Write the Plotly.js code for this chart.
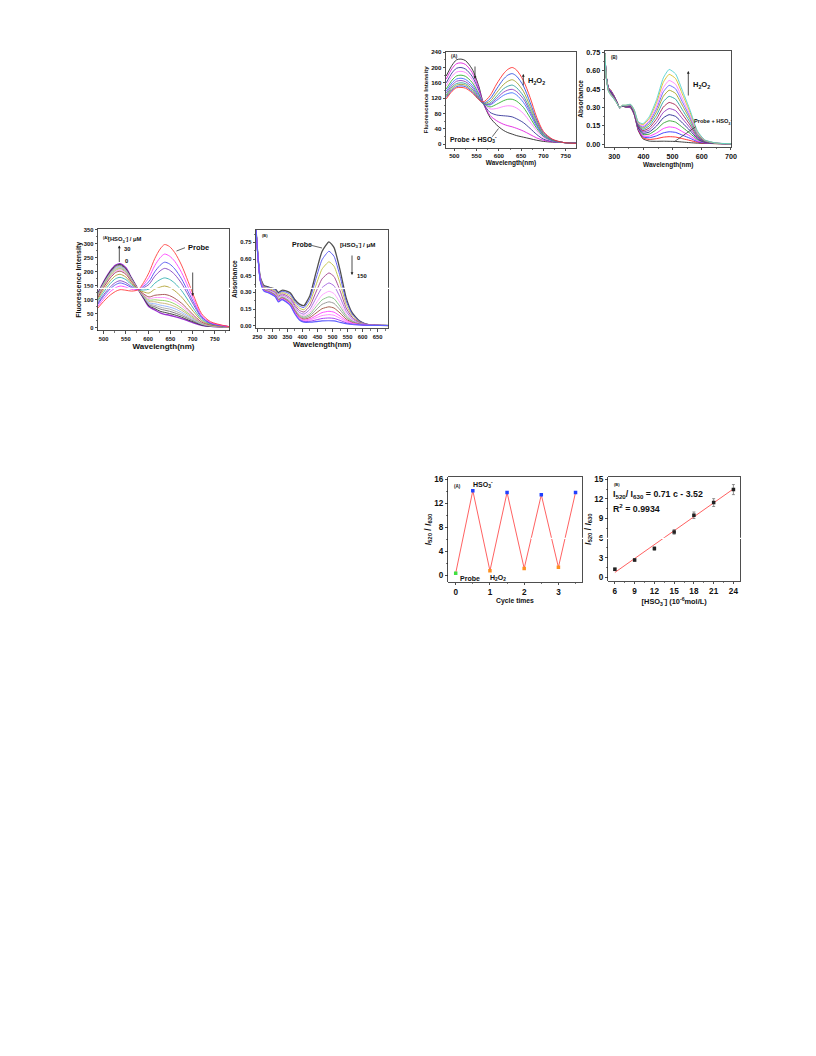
<!DOCTYPE html>
<html><head><meta charset="utf-8">
<script src="https://cdn.plot.ly/plotly-3.0.1.min.js"></script>
<style>html,body{margin:0;padding:0;background:#fff}#chart{width:816px;height:1056px}</style>
</head><body><div id="chart"></div>
<script>
// ---------- Panel 1: fluorescence, H2O2 addition ----------
const flH2O2Wl = [482,495,505,515,525,540,555,565,580,595,610,620,630,640,655,670,685,700,720,745,775];
const flH2O2I = [
  [178,206,220,222,218,196,151,108,70,50,36,30,26,22,18,14,10,7,5,4,3],
  [170,197,210,212,208,187,146,107,75,61,52,48,45,41,34,25,16,10,6,4,3],
  [160,186,198,200,196,177,140,107,83,76,74,73,71,66,56,41,25,13,7,4,3],
  [152,177,188,190,187,169,136,108,92,93,98,100,99,94,80,58,35,17,8,4,3],
  [144,167,178,180,177,161,131,107,97,104,113,117,117,112,96,69,41,20,9,4,3],
  [138,160,170,172,169,154,127,107,102,114,127,132,134,128,109,79,46,22,9,4,3],
  [133,154,164,166,163,149,123,106,104,119,135,141,143,137,118,85,50,24,10,4,3],
  [128,149,158,160,158,144,120,105,107,125,144,151,154,147,126,91,53,25,10,4,2],
  [125,145,154,156,154,140,119,106,112,134,155,164,168,161,138,99,58,27,11,4,2],
  [122,141,150,152,150,137,117,107,118,144,169,180,184,177,152,109,63,30,12,4,2],
  [118,138,147,148,146,134,116,110,126,157,183,195,200,193,166,122,70,33,13,4,2]
];
const flH2O2Colors = ['#2a2a2a','#e020e0','#34349a','#ff80ff','#30b030','#4070ff','#9040c0','#30a0a0','#a0a030','#3050e0','#ff3030'];

// ---------- Panel 2: absorbance, H2O2 addition ----------
const absH2O2Wl = [268,272,280,288,298,310,319,327,340,356,368,382,398,420,445,468,488,510,535,560,585,610,650,702];
const absH2O2A = [
  [0.74,0.56,0.459,0.439,0.399,0.34,0.295,0.31,0.30,0.296,0.241,0.111,0.043,0.024,0.022,0.023,0.022,0.021,0.016,0.011,0.007,0.005,0.003,0.002],
  [0.74,0.559,0.458,0.437,0.398,0.339,0.295,0.311,0.302,0.298,0.244,0.116,0.051,0.037,0.044,0.056,0.06,0.057,0.043,0.029,0.014,0.007,0.003,0.002],
  [0.74,0.558,0.456,0.434,0.396,0.338,0.295,0.311,0.303,0.3,0.246,0.121,0.059,0.051,0.067,0.091,0.10,0.095,0.071,0.047,0.02,0.009,0.004,0.002],
  [0.74,0.557,0.454,0.431,0.394,0.337,0.295,0.311,0.304,0.302,0.249,0.126,0.067,0.064,0.09,0.126,0.14,0.132,0.099,0.065,0.027,0.011,0.004,0.002],
  [0.74,0.556,0.451,0.427,0.391,0.336,0.295,0.312,0.305,0.304,0.253,0.132,0.078,0.081,0.119,0.17,0.19,0.179,0.134,0.087,0.036,0.013,0.004,0.002],
  [0.74,0.555,0.449,0.424,0.389,0.335,0.295,0.312,0.307,0.307,0.256,0.138,0.088,0.098,0.148,0.214,0.24,0.226,0.169,0.11,0.044,0.016,0.005,0.002],
  [0.74,0.554,0.446,0.42,0.386,0.334,0.295,0.313,0.308,0.309,0.26,0.144,0.099,0.115,0.177,0.258,0.29,0.273,0.204,0.132,0.053,0.018,0.005,0.002],
  [0.74,0.553,0.444,0.417,0.384,0.333,0.295,0.313,0.31,0.312,0.263,0.15,0.109,0.132,0.206,0.302,0.34,0.32,0.239,0.155,0.061,0.021,0.006,0.002],
  [0.74,0.552,0.441,0.413,0.381,0.332,0.295,0.314,0.311,0.314,0.267,0.156,0.12,0.149,0.235,0.346,0.39,0.367,0.274,0.177,0.07,0.023,0.006,0.002],
  [0.74,0.551,0.439,0.41,0.379,0.331,0.295,0.314,0.313,0.317,0.27,0.162,0.13,0.166,0.264,0.39,0.44,0.414,0.309,0.2,0.078,0.026,0.006,0.002],
  [0.74,0.551,0.437,0.407,0.377,0.331,0.295,0.315,0.314,0.319,0.273,0.166,0.139,0.18,0.288,0.426,0.48,0.452,0.337,0.218,0.085,0.028,0.007,0.002],
  [0.74,0.55,0.435,0.404,0.375,0.33,0.295,0.315,0.315,0.321,0.276,0.171,0.147,0.193,0.311,0.461,0.52,0.489,0.365,0.236,0.092,0.03,0.007,0.002],
  [0.74,0.549,0.432,0.401,0.372,0.329,0.295,0.316,0.317,0.323,0.279,0.177,0.158,0.21,0.34,0.505,0.57,0.536,0.4,0.258,0.1,0.032,0.007,0.002],
  [0.74,0.548,0.43,0.398,0.37,0.328,0.295,0.316,0.318,0.325,0.282,0.182,0.166,0.224,0.363,0.54,0.61,0.574,0.428,0.276,0.107,0.034,0.008,0.002]
];
const absH2O2Colors = ['#2a2a2a','#ff2020','#3030ff','#ff30ff','#30a030','#202090','#9030c0','#a02050','#20a0a0','#a0a020','#6060ff','#ff80ff','#d8c020','#50d0d0'];

// ---------- Panel 3: fluorescence, HSO3- addition ----------
const flHSO3Wl = [487,500,515,527,537,550,563,578,590,602,615,627,637,648,660,675,690,705,720,740,783];
const flHSO3I = [
  [123,164,203,224,229,214,177,136,105,75,64,53,48,45,40,33,25,16,9,5,3],
  [122,162,201,221,226,211,176,136,106,78,69,59,55,51,46,38,28,19,10,5,3],
  [120,160,198,218,223,209,174,136,108,82,75,67,63,59,53,44,33,22,12,6,3],
  [118,158,195,215,220,206,173,136,110,86,80,74,70,67,60,50,37,24,13,7,3],
  [117,156,193,212,217,204,172,136,112,89,86,81,78,74,68,56,42,27,14,7,3],
  [115,153,190,209,214,201,170,136,114,94,93,89,87,83,76,63,47,30,16,8,3],
  [113,150,186,205,211,198,168,136,116,99,100,98,97,93,85,70,52,34,17,8,3],
  [110,147,182,201,207,195,166,136,118,104,108,108,108,103,95,79,58,37,19,9,3],
  [108,144,178,197,202,191,164,136,121,110,116,118,119,115,105,88,65,41,21,10,3],
  [102,136,168,186,191,181,158,136,128,124,138,145,149,144,132,110,81,52,26,12,3],
  [96,127,158,175,180,172,153,136,135,138,159,172,178,173,159,133,98,62,31,14,4],
  [88,118,146,162,168,161,147,136,143,155,184,203,212,206,190,159,117,74,37,16,4],
  [84,112,139,154,160,154,143,136,148,165,200,223,234,228,210,175,129,82,40,17,4],
  [77,103,129,143,149,145,137,136,154,180,222,250,263,256,237,198,146,92,45,19,4],
  [70,94,117,130,136,134,131,136,162,197,247,281,297,290,268,224,165,104,51,22,4]
];
const flHSO3Colors = ['#9b30d0','#303030','#707070','#a8a8a8','#90b0ff','#c8b070','#90d060','#ff90ff','#a04848','#b0a030','#30b0b0','#8040c0','#5050f0','#ff40ff','#ff4040'];

// ---------- Panel 4: absorbance, HSO3- addition ----------
const absHSO3Wl = [246,252,260,272,290,310,320,332,345,360,375,390,405,425,445,465,488,505,525,545,565,590,620,685];
const absHSO3A = [
  [0.86,0.635,0.437,0.362,0.346,0.330,0.299,0.319,0.314,0.294,0.234,0.194,0.181,0.273,0.477,0.668,0.755,0.703,0.5,0.253,0.118,0.042,0.01,0.002],
  [0.86,0.633,0.433,0.356,0.34,0.321,0.289,0.309,0.302,0.281,0.219,0.177,0.164,0.244,0.424,0.593,0.67,0.624,0.444,0.225,0.105,0.038,0.01,0.002],
  [0.86,0.631,0.428,0.35,0.332,0.312,0.278,0.298,0.289,0.265,0.202,0.158,0.144,0.212,0.365,0.509,0.575,0.535,0.381,0.193,0.091,0.033,0.009,0.002],
  [0.86,0.629,0.423,0.343,0.325,0.302,0.266,0.286,0.275,0.249,0.184,0.138,0.123,0.178,0.303,0.421,0.475,0.442,0.315,0.16,0.076,0.028,0.008,0.002],
  [0.86,0.628,0.419,0.336,0.318,0.293,0.255,0.275,0.263,0.235,0.168,0.12,0.104,0.148,0.248,0.342,0.385,0.359,0.256,0.131,0.062,0.024,0.007,0.002],
  [0.86,0.626,0.415,0.331,0.313,0.285,0.246,0.266,0.252,0.223,0.154,0.105,0.088,0.122,0.201,0.276,0.31,0.289,0.206,0.106,0.051,0.02,0.006,0.002],
  [0.86,0.625,0.413,0.328,0.309,0.28,0.24,0.26,0.245,0.215,0.145,0.095,0.078,0.105,0.17,0.232,0.26,0.243,0.173,0.09,0.044,0.018,0.006,0.002],
  [0.86,0.624,0.41,0.324,0.305,0.276,0.235,0.255,0.239,0.208,0.137,0.086,0.068,0.09,0.142,0.192,0.215,0.201,0.143,0.075,0.037,0.015,0.005,0.002],
  [0.86,0.623,0.408,0.321,0.302,0.271,0.229,0.249,0.232,0.201,0.129,0.077,0.059,0.074,0.114,0.153,0.17,0.159,0.114,0.06,0.03,0.013,0.005,0.002],
  [0.86,0.622,0.406,0.318,0.299,0.267,0.224,0.244,0.227,0.194,0.122,0.069,0.05,0.061,0.089,0.118,0.13,0.122,0.087,0.047,0.024,0.011,0.004,0.002],
  [0.86,0.622,0.405,0.316,0.297,0.264,0.221,0.241,0.223,0.189,0.116,0.063,0.044,0.051,0.071,0.091,0.1,0.094,0.067,0.037,0.02,0.01,0.004,0.002],
  [0.86,0.621,0.403,0.314,0.295,0.261,0.217,0.237,0.218,0.185,0.111,0.057,0.038,0.04,0.052,0.065,0.07,0.066,0.048,0.027,0.015,0.008,0.004,0.002],
  [0.86,0.621,0.402,0.312,0.293,0.259,0.214,0.234,0.215,0.181,0.106,0.052,0.032,0.032,0.037,0.043,0.045,0.043,0.031,0.019,0.011,0.007,0.003,0.002]
];
const absHSO3Colors = ['#505050','#5050f0','#c0c040','#a04090','#a060e0','#ffa0ff','#80c080','#909090','#a05040','#ff40ff','#ff80ff','#a030f0','#6060ff'];

// ---------- Panel 5: reversibility cycles ----------
const cycleX = [0,0.5,1,1.5,2,2.5,3,3.5];
const cycleY = [0.3,14.1,0.7,13.8,1.1,13.4,1.3,13.8];
const probeX = [0];        const probeY = [0.3];
const hso3X = [0.5,1.5,2.5,3.5]; const hso3Y = [14.1,13.8,13.4,13.8];
const h2o2X = [1,2,3];     const h2o2Y = [0.7,1.1,1.3];

// ---------- Panel 6: linear calibration ----------
const concX = [6,9,12,15,18,21,24];
const ratioY = [1.22,2.65,4.39,6.94,9.49,11.43,13.42];
const ratioErr = [0.2,0.2,0.25,0.35,0.5,0.6,0.77];
const fitX = [6,24];
const fitY = [0.74,13.52];

// ---------- layout helpers ----------
const W = 816, H = 1056;
const fx = p => p / W;
const fy = p => 1 - p / H;
const FONT = 'Arial, "Liberation Sans", sans-serif';

function mkX(l, r, range, dtick, tick0, title, tSize, titleSize, anchor, minorD, standoff) {
  return {
    domain: [fx(l), fx(r)], range: range, anchor: anchor,
    showline: true, mirror: true, linecolor: '#222', linewidth: 0.8,
    ticks: 'outside', ticklen: 2.5, tickwidth: 0.8, tickcolor: '#222',
    dtick: dtick, tick0: tick0,
    tickfont: {family: FONT, size: tSize, weight: 700, color: '#111'},
    showgrid: false, zeroline: false,
    minor: {ticks: 'outside', ticklen: 1.5, tickwidth: 0.6, tickcolor: '#222', dtick: minorD, tick0: tick0},
    title: {text: title, font: {family: FONT, size: titleSize, weight: 700, color: '#111'}, standoff: standoff}
  };
}
function mkY(t, b, range, dtick, tick0, title, tSize, titleSize, anchor, minorD, fmt, standoff) {
  const a = mkX(0, 1, range, dtick, tick0, title, tSize, titleSize, anchor, minorD, standoff);
  a.domain = [fy(b), fy(t)];
  if (fmt) a.tickformat = fmt;
  return a;
}

const traces = [];
function addCurves(wl, set, colors, xa, ya, widths, smooth) {
  set.forEach((ys, i) => {
    traces.push({x: wl, y: ys, xaxis: xa, yaxis: ya, type: 'scatter', mode: 'lines',
      line: {color: colors[i], width: widths ? widths[i] : 0.9, shape: 'spline', smoothing: smooth || 0.8},
      hoverinfo: 'skip', showlegend: false});
  });
}
addCurves(flH2O2Wl, flH2O2I, flH2O2Colors, 'x', 'y');
addCurves(absH2O2Wl, absH2O2A, absH2O2Colors, 'x2', 'y2', null, 0.5);
addCurves(flHSO3Wl, flHSO3I, flHSO3Colors, 'x3', 'y3', flHSO3I.map((_, i) => i === 0 ? 1.4 : 0.9));
addCurves(absHSO3Wl, absHSO3A, absHSO3Colors, 'x4', 'y4', absHSO3A.map((_, i) => i === 0 ? 1.3 : (i === absHSO3A.length - 1 ? 1.2 : 0.9)), 0.5);

// panel 5
traces.push({x: cycleX, y: cycleY, xaxis: 'x5', yaxis: 'y5', mode: 'lines', line: {color: '#ff5050', width: 0.9}, showlegend: false});
traces.push({x: probeX, y: probeY, xaxis: 'x5', yaxis: 'y5', mode: 'markers', marker: {symbol: 'square', size: 3.5, color: '#40e040'}, showlegend: false});
traces.push({x: hso3X, y: hso3Y, xaxis: 'x5', yaxis: 'y5', mode: 'markers', marker: {symbol: 'square', size: 3.5, color: '#2040ff'}, showlegend: false});
traces.push({x: h2o2X, y: h2o2Y, xaxis: 'x5', yaxis: 'y5', mode: 'markers', marker: {symbol: 'square', size: 3.5, color: '#ff9020'}, showlegend: false});

// panel 6
traces.push({x: fitX, y: fitY, xaxis: 'x6', yaxis: 'y6', mode: 'lines', line: {color: '#ff6060', width: 1}, showlegend: false});
traces.push({x: concX, y: ratioY, xaxis: 'x6', yaxis: 'y6', mode: 'markers',
  marker: {symbol: 'square', size: 3.5, color: '#222'},
  error_y: {type: 'data', array: ratioErr, visible: true, color: '#666', thickness: 0.7, width: 1.5}, showlegend: false});

const tf = (size) => ({family: FONT, size: size, weight: 700, color: '#111'});
function txt(x, y, text, size, xanchor) {
  return {xref: 'paper', yref: 'paper', x: fx(x), y: fy(y), text: text, showarrow: false,
    font: tf(size), xanchor: xanchor || 'center', yanchor: 'middle'};
}
function arrow(xh, yh, dx, dy) {
  return {xref: 'paper', yref: 'paper', x: fx(xh), y: fy(yh), ax: dx, ay: dy, text: '',
    showarrow: true, arrowhead: 2, arrowsize: 0.7, arrowwidth: 0.8, arrowcolor: '#222'};
}
function seg(x0, y0, x1, y1, color, w) {
  return {type: 'line', xref: 'paper', yref: 'paper', x0: fx(x0), y0: fy(y0), x1: fx(x1), y1: fy(y1),
    line: {color: color || '#222', width: w || 0.7}, layer: 'above'};
}

const annotations = [
  // panel 1
  txt(449, 56.5, '(A)', 4.5, 'left'),
  arrow(475, 79, 0, -14),
  arrow(523.3, 74, 0, 13),
  txt(526, 81, 'H<sub>2</sub>O<sub>2</sub>', 7.5, 'left'),
  txt(448, 139.5, 'Probe + HSO<sub>3</sub><sup>-</sup>', 6.9, 'left'),
  // panel 2
  txt(609, 57.5, '(B)', 4.5, 'left'),
  arrow(688.3, 71, 0, 26),
  txt(691, 85, 'H<sub>2</sub>O<sub>2</sub>', 7.5, 'left'),
  txt(692, 122, 'Probe + HSO<sub>3</sub><sup>-</sup>', 5.6, 'left'),
  // panel 3
  txt(100.5, 237.5, '(A)', 4, 'left'),
  txt(106, 239, '[HSO<sub>3</sub><sup>-</sup>] / μM', 5.8, 'left'),
  arrow(119.3, 245.5, 0, 18),
  txt(121.5, 248.5, '30', 5.8, 'left'),
  txt(123, 261.5, '0', 5.8, 'left'),
  txt(186, 247.5, 'Probe', 7.5, 'left'),
  arrow(192.7, 296, 0, -25),
  // panel 4
  txt(260, 235.5, '(B)', 4, 'left'),
  txt(290, 244, 'Probe', 7, 'left'),
  txt(338, 244, '[HSO<sub>3</sub><sup>-</sup>] / μM', 6.2, 'left'),
  txt(355, 257.7, '0', 5.8, 'left'),
  txt(355, 275.7, '150', 5.8, 'left'),
  arrow(352, 275, 0, -21),
  // panel 5
  txt(451.5, 486, '(A)', 4.5, 'left'),
  txt(471, 485, 'HSO<sub>3</sub><sup>-</sup>', 7, 'left'),
  txt(457.5, 578.3, 'Probe', 7, 'left'),
  txt(488, 577.5, 'H<sub>2</sub>O<sub>2</sub>', 7, 'left'),
  // panel 6
  txt(611.5, 484.5, '(B)', 4, 'left'),
  txt(611, 494, 'I<sub>520</sub>/ I<sub>630</sub> = 0.71 c - 3.52', 8.8, 'left'),
  txt(611, 507.5, 'R<sup>2</sup> = 0.9934', 8.8, 'left')
];

const shapes = [
  seg(492.3, 136.7, 498.5, 128.5),
  seg(695.7, 126.7, 674.3, 141.7),
  seg(185, 247.7, 176.5, 251),
  seg(310, 245, 322, 248),
  seg(60, 288.3, 396, 288.3, '#ffffff', 1.2),
  seg(531, 538.3, 760, 538.3, '#ffffff', 1.2)
];

const layout = {
  width: W, height: H, margin: {l: 0, r: 0, t: 0, b: 0},
  paper_bgcolor: '#fff', plot_bgcolor: '#fff', showlegend: false,
  font: {family: FONT, color: '#111'},
  xaxis:  mkX(446, 576, [481.4, 773.1], 50, 500, 'Wavelength(nm)', 6.2, 6.5, 'y', 25, 1),
  yaxis:  mkY(52, 147.7, [-9.5, 240.5], 40, 0, 'Fluorescence Intensity', 6.2, 6.2, 'x', 20, null, 1),
  xaxis2: mkX(605, 731.5, [268, 702], 100, 300, 'Wavelength(nm)', 7.2, 6.5, 'y2', 50, 1),
  yaxis2: mkY(51, 146.7, [-0.022, 0.761], 0.15, 0, 'Absorbance', 7.2, 6.5, 'x2', 0.075, '.2f', 1),
  xaxis3: mkX(98, 229, [487.4, 781.8], 50, 500, 'Wavelength(nm)', 5.8, 8, 'y3', 25, 1),
  yaxis3: mkY(229, 330.5, [-9.6, 352.5], 50, 0, 'Fluorescence Intensity', 5.8, 7, 'x3', 25, null, 1),
  xaxis4: mkX(256, 388.3, [245.7, 685.2], 50, 250, 'Wavelength(nm)', 5.8, 7.5, 'y4', 25, 1),
  yaxis4: mkY(230, 328.3, [-0.023, 0.861], 0.15, 0, 'Absorbance', 5.8, 6.5, 'x4', 0.075, '.2f', 1),
  xaxis5: mkX(448.3, 581.7, [-0.216, 3.68], 1, 0, 'Cycle times', 8.2, 6.8, 'y5', 0.5, 0),
  yaxis5: mkY(477.3, 581.7, [-1.12, 16.33], 4, 0, '<i>I</i><sub>520</sub> / <i>I</i><sub>630</sub>', 8.2, 8.5, 'x5', 2, null, 1),
  xaxis6: mkX(608.3, 740, [5, 25], 3, 6, '[HSO<sub>3</sub><sup>-</sup>] (10<sup>-6</sup>mol/L)', 8.2, 7.4, 'y6', 1.5, 0),
  yaxis6: mkY(477.3, 581, [-0.57, 15.3], 3, 0, '<i>I</i><sub>520</sub> / <i>I</i><sub>630</sub>', 8.2, 8.5, 'x6', 1.5, null, 1),
  annotations: annotations,
  shapes: shapes
};

Plotly.newPlot('chart', traces, layout, {staticPlot: true, displayModeBar: false});
</script>
</body></html>
